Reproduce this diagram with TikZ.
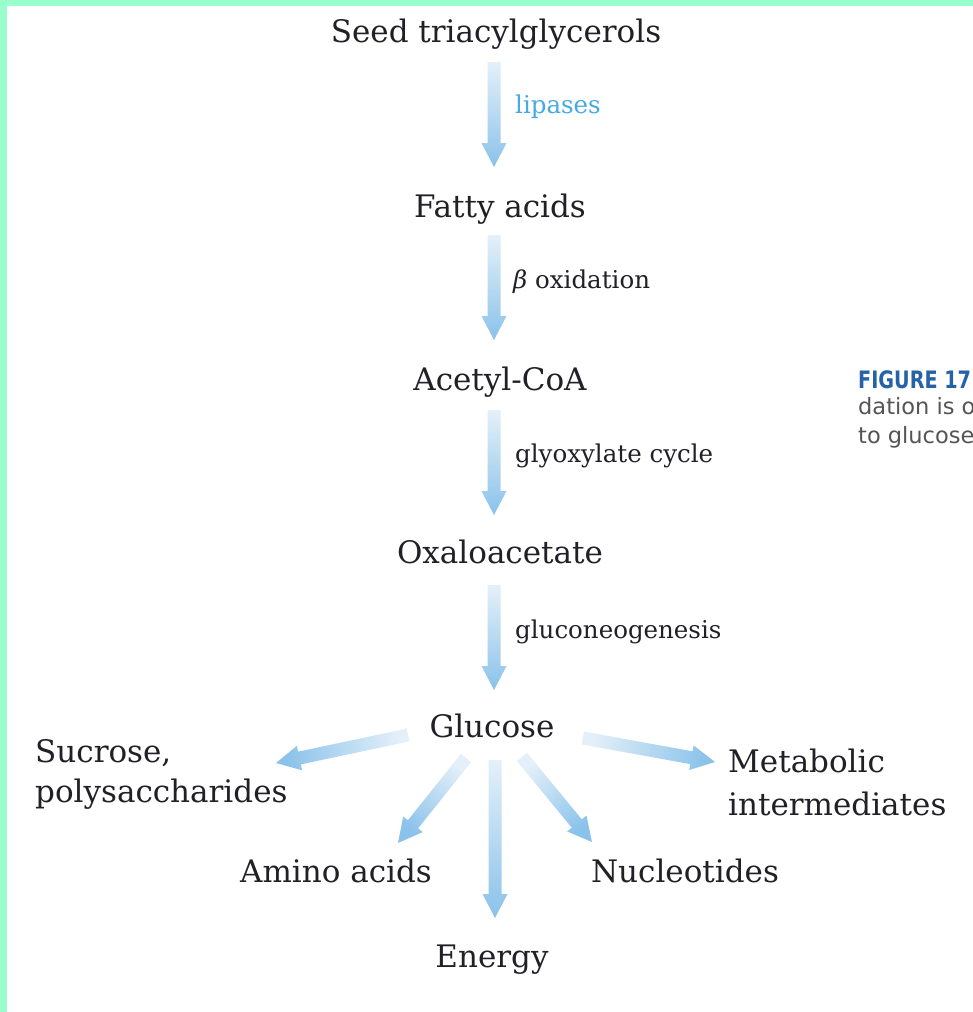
\documentclass[tikz,border=0pt]{standalone}
\usepackage{fontspec}
\setmainfont{DejaVu Serif}
\newfontfamily\capfont{DejaVu Sans}
\usetikzlibrary{calc}
\definecolor{mint}{RGB}{153,255,204}
\definecolor{txt}{RGB}{32,32,38}
\definecolor{arrowlight}{RGB}{228,240,249}
\definecolor{arrowdark}{RGB}{138,194,234}
\definecolor{lipblue}{RGB}{72,170,226}
\definecolor{figblue}{RGB}{38,98,168}
\definecolor{capgray}{RGB}{85,85,85}
\newcommand\fatarrow[3]{%
  \coordinate (hb) at ($(#2)!24pt!(#1)$);
  \shade[top color=arrowlight,bottom color=arrowdark,shading angle=#3]
    ($(#1)!6.5pt!90:(#2)$) -- ($(hb)!6.5pt!90:(#2)$) -- ($(hb)!12.5pt!90:(#2)$) --
    (#2) -- ($(hb)!12.5pt!-90:(#2)$) -- ($(hb)!6.5pt!-90:(#2)$) --
    ($(#1)!6.5pt!-90:(#2)$) -- cycle;}
\begin{document}
\begin{tikzpicture}[x=1pt,y=-1pt,
  main/.style={font=\fontsize{31}{36}\selectfont, text=txt, inner sep=0pt, anchor=base},
  mainl/.style={main, anchor=base west},
  enz/.style={font=\fontsize{24.5}{28}\selectfont, text=txt, inner sep=0pt, anchor=base west},
  captxt/.style={font=\capfont\fontsize{22.5}{26}\selectfont, text=capgray, inner sep=0pt, anchor=base west}]
\useasboundingbox (0,0) rectangle (973,1012);
\begin{scope}
\clip (0,0) rectangle (973,1012);
\fill[mint] (0,0) rectangle (973,1012);
\fill[white] (7,6) rectangle (973,1012);

% main labels
\node[main] (seed) at (496,42) {Seed triacylglycerols};
\node[main] (fatty) at (500,217) {Fatty acids};
\node[main] (acetyl) at (500,390) {Acetyl-CoA};
\node[main] (oxa) at (500,563) {Oxaloacetate};
\node[main] (glc) at (492,737) {Glucose};
\node[mainl] (suc1) at (35,762) {Sucrose,};
\node[mainl] (suc2) at (35,802) {polysaccharides};
\node[mainl] (met1) at (728,772) {Metabolic};
\node[mainl] (met2) at (728,815) {intermediates};
\node[main] (amino) at (336,882) {Amino acids};
\node[main] (nuc) at (685,882) {Nucleotides};
\node[main] (energy) at (492,967) {Energy};

% enzyme labels
\node[enz, text=lipblue] (lip) at (515,113) {lipases};
\node[enz] (box) at (513,288) {\textit{β} oxidation};
\node[enz] (gly) at (515,462) {glyoxylate cycle};
\node[enz] (gng) at (515,638) {gluconeogenesis};

% caption fragment
\node[captxt, font=\capfont\bfseries\fontsize{24}{28}\selectfont, text=figblue, xscale=0.8, transform shape] (fig) at (858,388) {FIGURE 17};
\node[captxt] (cap1) at (858,414) {dation is o};
\node[captxt] (cap2) at (858,443) {to glucose};

% arrow end points
\coordinate (t1) at (494,62);  \coordinate (e1) at (494,167);
\coordinate (t2) at (494,235); \coordinate (e2) at (494,340);
\coordinate (t3) at (494,410); \coordinate (e3) at (494,515);
\coordinate (t4) at (494,585); \coordinate (e4) at (494,690);
\coordinate (ts) at (408,735); \coordinate (es) at (276,763);
\coordinate (ta) at (466,758); \coordinate (ea) at (398,843);
\coordinate (te) at (495,760); \coordinate (ee) at (495,918);
\coordinate (tn) at (522,757); \coordinate (en) at (592,842);
\coordinate (tm) at (583,738); \coordinate (em) at (715,762);

\fatarrow{t1}{e1}{0}
\fatarrow{t2}{e2}{0}
\fatarrow{t3}{e3}{0}
\fatarrow{t4}{e4}{0}
\fatarrow{ts}{es}{-78}
\fatarrow{ta}{ea}{-39}
\fatarrow{te}{ee}{0}
\fatarrow{tn}{en}{39}
\fatarrow{tm}{em}{80}
\end{scope}
\end{tikzpicture}
\end{document}
